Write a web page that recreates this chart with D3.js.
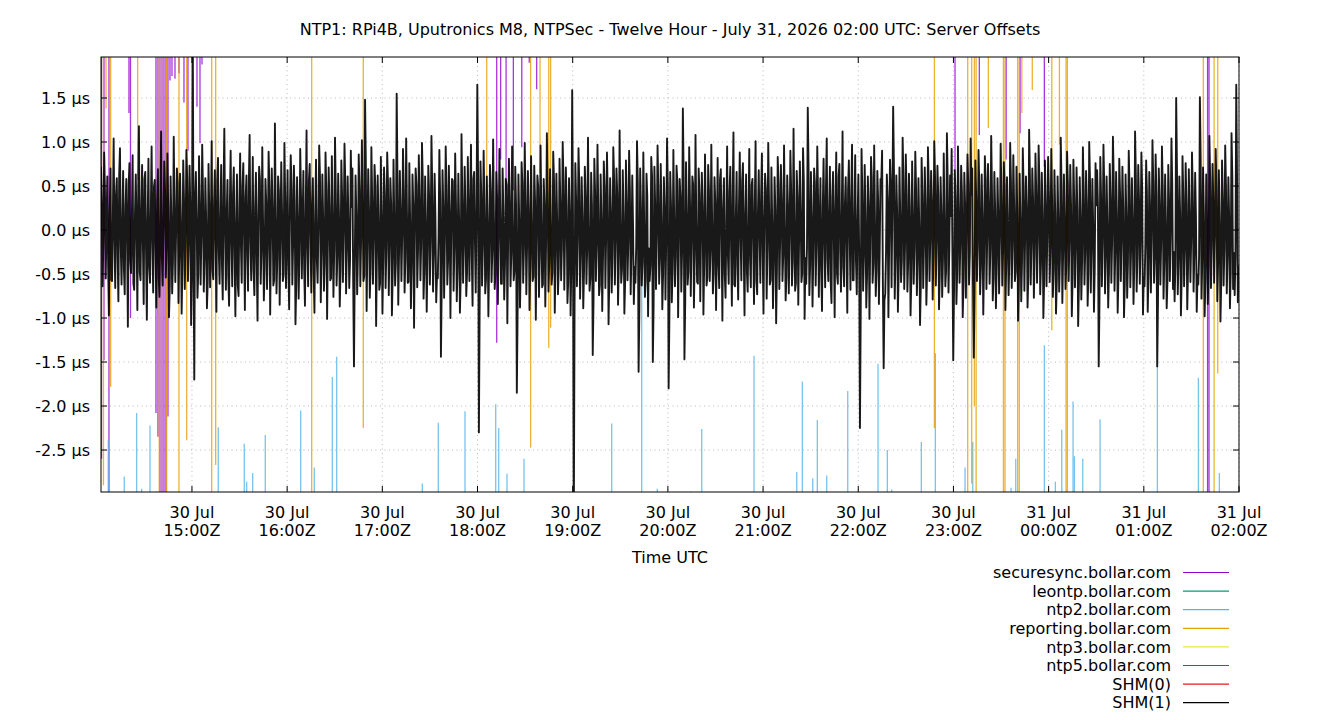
<!DOCTYPE html>
<html lang="en">
<head>
<meta charset="UTF-8">
<title>NTP1 Server Offsets</title>
<script src="https://d3js.org/d3.v7.min.js"></script>
<style>
  body { margin: 0; background: #fff; }
  text { font-family: "DejaVu Sans", sans-serif; font-size: 16px; fill: #000; }
</style>
</head>
<body>
<div id="chart"></div>
<script>
// time window: minutes are counted from 30 Jul 2026 14:00Z
const baseTime = Date.UTC(2026, 6, 30, 14, 0, 0);
const firstSample = 2 + 40 / 60;   // first logged sample (minutes)
const lastSample = 720;            // 31 Jul 02:00Z

const title = "NTP1: RPi4B, Uputronics M8, NTPSec - Twelve Hour - July 31, 2026 02:00 UTC: Server Offsets";
const yTicks = [1.5, 1.0, 0.5, 0.0, -0.5, -1.0, -1.5, -2.0, -2.5];
const xTickMinutes = [60, 120, 180, 240, 300, 360, 420, 480, 540, 600, 660, 720];
const xTickDays = ["30 Jul", "30 Jul", "30 Jul", "30 Jul", "30 Jul", "30 Jul", "30 Jul", "30 Jul", "30 Jul", "31 Jul", "31 Jul", "31 Jul"];
const xTickTimes = ["15:00Z", "16:00Z", "17:00Z", "18:00Z", "19:00Z", "20:00Z", "21:00Z", "22:00Z", "23:00Z", "00:00Z", "01:00Z", "02:00Z"];

const serverNames = ["securesync.bollar.com", "leontp.bollar.com", "ntp2.bollar.com", "reporting.bollar.com",
                     "ntp3.bollar.com", "ntp5.bollar.com", "SHM(0)", "SHM(1)"];
const serverColors = ["#9400d3", "#009e73", "#56b4e9", "#e69f00", "#f0e442", "#0072b2", "#e51e10", "#000000"];

// SHM(1) offsets in units of 0.01 µs. Samples every 29.9 s from firstSample:
// shm1Offsets holds the even samples, shm1OffsetsMid the odd ones in between.
const shm1Step = 29.9;
const shm1Offsets = [
  72,-64,88,-55,61,-97,70,-58,104,-66,59,-81,93,-62,67,-73,58,-110,76,-49,85,-68,63,-91,118,-57,74,-84,66,-102,
  81,-60,95,-71,57,-88,69,-76,112,-63,78,-54,87,-99,61,-72,106,-59,70,-83,64,-95,79,-67,91,-58,73,-108,250,-170,
  66,-77,84,-62,97,-70,59,-89,75,-65,101,-56,68,-93,82,-61,74,-79,115,-68,57,-86,90,-64,71,-98,63,-75,87,-60,
  76,-91,62,-69,108,-57,83,-74,65,-103,72,-61,94,-80,58,-67,89,-96,70,-63,121,-72,61,-85,77,-58,99,-66,68,-90,
  85,-62,73,-107,60,-78,92,-55,67,-86,113,-64,75,-71,59,-94,80,-60,96,-82,63,-69,88,-101,71,-57,84,-76,105,-63,
  64,-87,79,-59,98,-72,61,-66,90,70,-155,62,-73,86,-64,102,-58,148,-92,69,-77,94,-61,74,-109,62,-68,83,-95,71,
  -66,88,-74,59,-97,80,-63,155,-85,67,-58,92,-71,104,-60,76,-89,63,-111,70,-65,85,-57,99,-78,61,-93,73,-62,107,
  -70,64,-82,-55,91,-144,68,-77,95,-62,73,-100,58,-69,87,-81,64,-94,109,-60,72,-75,83,-58,97,-86,66,-71,165,-230,
  78,-63,90,-72,61,-98,74,-59,103,-67,66,-84,92,-61,70,-79,58,-106,81,-64,95,-57,72,-185,63,-88,77,-60,99,-73,
  67,-91,84,-58,73,-102,62,-76,96,-65,58,-87,110,-70,69,-62,89,-94,64,-73,81,-57,100,-68,71,-83,59,-97,159,-350,
  76,-64,93,-78,60,-89,72,-61,105,-69,65,-142,81,-58,97,-74,63,-92,78,-66,88,-107,59,-71,94,-62,70,-85,113,-60,
  68,-95,79,-57,90,-73,62,-84,-60,101,-161,70,-63,88,-76,64,-98,-58,83,-150,72,-67,96,-61,75,-90,60,-79,104,-180,
  66,-82,91,-64,73,-99,58,-70,138,-147,77,-62,94,-75,61,-88,108,-59,70,-81,65,-96,86,-63,74,-58,97,-72,60,-91,
  82,-66,69,-103,59,-77,95,-61,72,-86,111,-64,66,-79,88,-57,76,-97,63,-70,92,-65,58,-84,101,-73,68,-60,87,-95,
  64,-78,99,-62,71,-89,60,-106,83,-67,74,-58,96,-80,62,-72,90,-63,115,-69,67,-85,78,-59,93,-101,-61,139,-74,66,
  -87,70,-63,95,-76,59,-92,81,-65,104,-58,72,-83,66,-99,88,-61,75,-70,112,-64,60,-94,79,-68,97,-57,85,-73,63,
  -225,92,-69,74,-88,61,-101,83,-60,96,-75,67,-84,58,90,-157,-72,63,-99,80,-65,140,-78,62,-93,71,-59,105,-67,86,
  -70,64,-97,78,-61,89,-74,59,-108,82,-66,71,-85,94,-58,67,-79,101,-63,73,-90,60,-76,87,-64,110,-71,62,92,-148,
  68,-84,95,-60,73,-99,65,-77,86,-62,104,70,-145,79,-58,91,-73,63,-96,84,-67,75,-61,107,-80,66,-89,59,-72,98,
  -63,77,-91,60,-74,99,-66,85,-58,72,-103,64,-81,93,-69,61,-88,114,-62,70,-77,87,-60,96,-73,65,-100,79,-64,83,
  -59,92,-76,68,-95,61,-70,105,-83,63,-67,89,-58,74,-98,80,-65,71,-109,60,-79,94,-62,67,-86,100,-71,58,-93,76,
  68,-155,83,-64,97,-72,61,-88,75,-60,106,-69,66,-94,81,-58,72,-99,63,-77,90,-65,59,-84,112,-70,74,-61,88,-96,
  -64,79,-93,66,-71,102,-60,86,-155,70,-62,95,-78,63,-89,74,-58,104,-67,-81,150,-73,61,-97,84,-64,76,-90,69,-59,
  88,-70,65,-93,-62,151,-78,71,-98,63,-84,107,-66,75,-60,92,-81,68,-104,79,-63,96,-72,60,-89,110,-67,-74,165,-82
];
const shm1OffsetsMid = [
  31,-12,45,8,-38,22,-57,14,-6,40,-29,63,-18,5,-44,27,-9,52,-35,11,-61,19,-3,36,-48,24,-15,58,-26,7,
  -42,17,-8,49,-23,33,-55,10,-31,4,46,-19,28,-64,13,-37,21,-2,54,-27,9,-41,35,-16,60,-11,25,-47,-20,38,
  15,-50,26,-7,43,-34,12,-59,20,3,-45,31,-14,56,-24,9,-39,47,-5,18,-53,29,-12,41,-30,6,-62,23,-17,50,
  -9,37,-28,52,-13,4,-46,25,-36,16,58,-21,7,-43,32,-19,49,-6,27,-57,14,-33,44,-10,21,-51,35,-2,-40,26,
  48,-15,33,-60,11,-27,39,6,-44,23,-18,57,-8,30,-49,17,-34,2,61,-25,12,-38,45,-13,28,-55,9,-22,42,-31,
  19,-46,37,-4,53,-20,8,-35,26,-58,-40,15,-29,47,-11,32,-52,76,-10,24,-43,36,-7,50,-28,13,-61,20,-33,41,
  -22,55,-14,30,-48,9,-37,62,-26,18,-6,44,-33,21,-59,12,-41,28,-3,51,-24,35,-16,57,-45,7,-30,39,-12,46,
  -27,14,-52,-8,36,-60,23,-11,47,-35,19,-4,56,-21,30,-43,10,-54,38,-17,25,-49,6,33,-29,58,-13,20,60,-80,
  41,-18,29,-56,7,-32,45,-24,13,-50,37,-5,22,-61,16,-39,51,-9,34,-27,4,-46,28,-90,12,-35,53,-20,31,-15,
  24,-41,11,-53,35,-7,49,-30,18,-62,26,-14,40,-37,3,-48,57,-22,10,-44,31,-19,55,-3,27,-58,15,-34,20,-90,
  33,-9,51,-26,14,-47,38,-20,6,-55,29,-80,43,-16,24,-63,11,-31,48,-5,36,-52,19,-28,60,-12,41,-37,8,-45,
  17,-58,30,-13,46,-24,5,-42,-18,53,-90,25,-36,12,-57,39,-21,-40,62,-85,27,-8,44,-33,15,-50,22,-6,48,-95,
  29,-44,13,-31,56,-10,37,-25,60,-80,20,-47,34,-15,52,-28,8,-61,41,-3,26,-38,16,-54,45,-22,11,-49,33,-18,
  -36,58,-12,25,-50,7,-29,43,-19,36,-62,14,-41,30,-6,55,-24,18,-47,9,-33,51,-15,28,-58,21,-4,40,-27,12,
  46,-20,31,-57,10,-38,23,-45,52,-14,35,-28,6,-53,27,-9,44,-36,19,-60,38,-11,24,-49,55,-32,-20,70,-40,15,
  -28,53,-17,39,-6,-45,26,-12,48,-33,19,-59,37,-8,22,-50,61,-23,14,-42,30,-16,47,-5,34,-57,21,-36,9,-25,
  -90,44,-30,18,-52,27,-13,59,-38,10,-46,33,-21,55,-60,-80,-25,36,-9,50,30,70,-31,22,-48,14,-35,57,-19,41,
  -37,26,-55,12,-20,47,-31,6,-62,39,-15,28,-44,53,-9,34,-25,60,-11,41,-50,18,-33,7,-46,56,-23,16,-30,-70,
  35,-48,21,-14,43,-57,29,-8,52,-26,40,-60,-70,37,-19,50,-42,13,-35,58,-7,31,-22,45,-54,24,-39,17,-11,38,
  -25,49,-40,8,-33,56,-18,30,-47,22,-60,11,-36,48,-4,27,-52,62,-15,35,-29,43,-12,54,-38,19,-57,26,-6,40,
  -21,37,-45,20,-58,9,-32,50,-27,14,-40,53,-8,29,-55,34,-17,23,-61,12,-35,46,-24,31,-49,57,-13,6,-42,28,
  30,-80,38,-16,51,-29,7,-46,33,-11,58,-24,19,-52,42,-5,26,-60,15,-37,49,-20,10,-41,62,-28,35,-13,47,-54,
  -18,43,-50,24,-9,55,-31,40,-80,27,-14,48,-36,11,-57,32,-6,53,-25,-40,70,-34,17,-52,39,-22,29,-45,13,-10,
  44,-27,16,-51,-30,80,-35,22,-56,9,-41,59,-19,33,-7,47,-38,12,-60,36,-21,50,-29,15,-48,61,-26,-30,60,-40
];

// the other servers sit off the scale; only their excursions into the window are listed
// [minute, offset µs]; -3.5 means the excursion went past the bottom of the plot
const securesyncOff = 2.5;
const securesync = [
  [3.0,-2.6],[4.54,-1.48],[7.69,-3.5],[20.3,1.33],[21.24,-1.0],[37.32,-2.08],[38.58,-2.35],[39.84,-3.5],
  [41.1,-3.5],[42.36,-3.5],[43.62,-3.5],[44.88,-2.12],[46.15,1.7],[47.41,1.75],[49.3,1.72],[51.82,1.78],
  [54.97,1.45],[57.49,0.9],[63.17,1.4],[65.06,0.99],[66.32,1.88],[252.1,-1.28],[254.6,0.8],[258.0,0.45],
  [262.6,0.45],[267.9,0.94],[272.6,1.9],[277.3,1.6],[541.0,0.68],[556.3,1.08],[573.2,0.8],[582.0,1.1],
  [597.3,0.72],[700.2,-3.5],[701.1,-3.5]
];
const reportingOff = 2.5;
const reporting = [
  [4.22,-2.9],[5.8,1.38],[8.76,-1.78],[25.78,0.57],[39.4,-3.5],[40.79,-3.5],[44.07,-3.5],[51.82,-3.5],
  [56.67,-2.39],[72.43,-3.5],[74.95,-2.67],[135.47,-3.5],[168.0,-2.25],[245.8,0.34],[273.5,-2.47],
  [279.4,0.65],[284.9,-1.34],[286.1,-1.11],[528.0,-2.25],[549.0,-3.5],[551.5,-2.88],[553.2,-2.0],
  [554.3,-3.5],[562.0,1.16],[571.5,-3.5],[572.5,-3.5],[580.5,-3.5],[581.5,-3.5],[583.1,1.33],[589.7,1.59],
  [602.0,-1.14],[606.8,0.97],[611.0,-3.5],[611.8,-3.5],[697.5,-3.5],[704.3,-3.5],[706.6,-1.63]
];
const ntp2Off = -3.5;
const ntp2 = [
  [7.25,-2.39],[17.34,-2.8],[25.15,-2.08],[28.31,-2.94],[33.54,-2.22],[37.76,-2.97],[76.59,-2.24],
  [92.98,-2.43],[94.5,-2.86],[98.28,-2.76],[106.22,-2.33],[128.54,-2.05],[137.11,-2.7],[148.46,-1.67],
  [151.23,-1.44],[205.2,-2.88],[215.28,-2.19],[232.11,-2.06],[251.47,-1.98],[253.36,-2.25],[258.59,-2.77],
  [269.31,-2.6],[324.59,-2.2],[343.5,-0.53],[353.34,-2.94],[374.39,-2.97],[381.33,-2.26],[414.3,-1.43],
  [441.22,-2.75],[444.75,-1.72],[451.3,-2.82],[454.2,-2.16],[460.13,-2.79],[473.37,-1.83],[492.47,-1.52],
  [498.33,-2.5],[501.1,-2.95],[519.76,-2.41],[528.59,-1.4],[547.31,-2.7],[552.17,-2.41],[576.31,-2.93],
  [579.27,-2.6],[597.3,-1.31],[604.24,-2.86],[608.27,-2.27],[615.4,-1.95],[616.22,-2.57],[621.51,-2.6],
  [632.42,-2.15],[668.54,-1.55],[694.39,-1.68],[707.62,-2.76]
];

// set the dimensions and margins of the graph
const margin = {top: 57, right: 101, bottom: 228, left: 101},
    width = 1340 - margin.left - margin.right,
    height = 720 - margin.top - margin.bottom;

const root = d3.select("#chart")
  .append("svg")
    .attr("width", 1340)
    .attr("height", 720);

const svg = root.append("g")
    .attr("transform", `translate(${margin.left},${margin.top})`);

const toDate = m => new Date(baseTime + m * 60000);

const x = d3.scaleUtc()
  .domain([toDate(firstSample), toDate(lastSample)])
  .range([0, width]);

const y = d3.scaleLinear()
  .domain([-2.977, 1.966])
  .range([height, 0]);

svg.append("clipPath").attr("id", "plotclip")
  .append("rect").attr("width", width).attr("height", height);

// grid
svg.append("g").selectAll("line")
  .data(yTicks)
  .join("line")
    .attr("x1", 0).attr("x2", width)
    .attr("y1", d => y(d)).attr("y2", d => y(d))
    .attr("stroke", "#a8a8a8").attr("stroke-width", 0.8)
    .attr("stroke-dasharray", "1,3.5");

svg.append("g").selectAll("line")
  .data(xTickMinutes)
  .join("line")
    .attr("x1", d => x(toDate(d))).attr("x2", d => x(toDate(d)))
    .attr("y1", 0).attr("y2", height)
    .attr("stroke", "#a8a8a8").attr("stroke-width", 0.8)
    .attr("stroke-dasharray", "1,3.5");

// data
const plot = svg.append("g").attr("clip-path", "url(#plotclip)");

function drawExcursions(data, offValue, color) {
  plot.append("g").selectAll("line")
    .data(data)
    .join("line")
      .attr("x1", d => x(toDate(d[0]))).attr("x2", d => x(toDate(d[0])))
      .attr("y1", y(offValue)).attr("y2", d => y(d[1]))
      .attr("stroke", color)
      .attr("stroke-width", 1.3)
      .attr("stroke-opacity", 0.8);
}

drawExcursions(securesync, securesyncOff, serverColors[0]);
drawExcursions(ntp2, ntp2Off, serverColors[2]);
drawExcursions(reporting, reportingOff, serverColors[3]);

// interleave even and odd SHM(1) samples into one time series
const shm1 = [];
shm1Offsets.forEach((v, i) => {
  shm1.push(v);
  if (i < shm1OffsetsMid.length) shm1.push(shm1OffsetsMid[i]);
});

plot.append("path")
  .datum(shm1)
  .attr("fill", "none")
  .attr("stroke", serverColors[7])
  .attr("stroke-width", 1.9)
  .attr("stroke-linejoin", "round")
  .attr("stroke-opacity", 0.9)
  .attr("d", d3.line()
    .x((d, i) => x(toDate(firstSample + i * shm1Step / 60)))
    .y(d => y(d / 100)));

// border and ticks
svg.append("rect")
  .attr("width", width).attr("height", height)
  .attr("fill", "none").attr("stroke", "#000").attr("stroke-width", 1);

const tickLen = 6;
const yt = svg.append("g").selectAll("g").data(yTicks).join("g");
yt.append("line").attr("x1", 0).attr("x2", tickLen).attr("y1", d => y(d)).attr("y2", d => y(d)).attr("stroke", "#000");
yt.append("line").attr("x1", width).attr("x2", width - tickLen).attr("y1", d => y(d)).attr("y2", d => y(d)).attr("stroke", "#000");
yt.append("text")
  .attr("x", -11).attr("y", d => y(d)).attr("dy", "0.36em")
  .attr("text-anchor", "end")
  .text(d => d.toFixed(1) + " µs");

const xt = svg.append("g").selectAll("g").data(xTickMinutes).join("g")
  .attr("transform", d => `translate(${x(toDate(d))},0)`);
xt.append("line").attr("y1", height).attr("y2", height - tickLen).attr("stroke", "#000");
xt.append("line").attr("y1", 0).attr("y2", tickLen).attr("stroke", "#000");
xt.append("text")
  .attr("y", height + 26).attr("text-anchor", "middle")
  .text((d, i) => xTickDays[i]);
xt.append("text")
  .attr("y", height + 44).attr("text-anchor", "middle")
  .text((d, i) => xTickTimes[i]);

svg.append("text")
  .attr("x", width / 2).attr("y", height + 71)
  .attr("text-anchor", "middle")
  .text("Time UTC");

root.append("text")
  .attr("x", 670).attr("y", 35)
  .attr("text-anchor", "middle")
  .text(title);

// legend
const legend = root.append("g").selectAll("g")
  .data(serverNames)
  .join("g")
    .attr("transform", (d, i) => `translate(1171,${572.5 + i * 18.6})`);
legend.append("text")
  .attr("text-anchor", "end").attr("dy", "0.36em")
  .text(d => d);
legend.append("line")
  .attr("x1", 12).attr("x2", 58)
  .attr("stroke", (d, i) => serverColors[i])
  .attr("stroke-width", 1.2);
</script>
</body>
</html>
